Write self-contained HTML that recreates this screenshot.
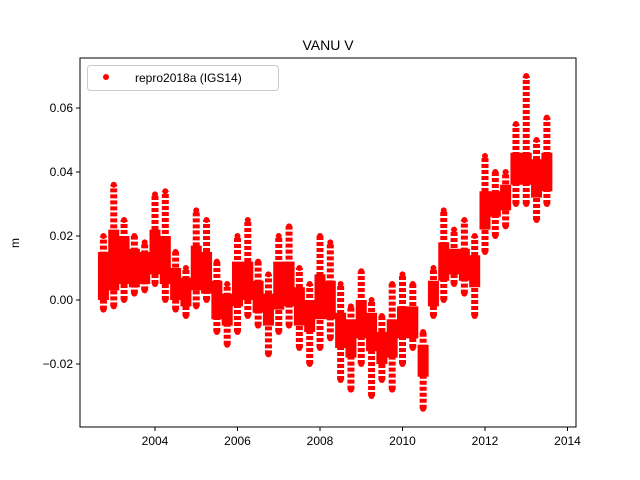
<!DOCTYPE html>
<html><head><meta charset="utf-8"><style>
body{margin:0;background:#fff;}
svg{display:block;font-family:"Liberation Sans","DejaVu Sans",sans-serif;}
</style></head><body>
<svg width="640" height="480">
<g id="marks"></g>
<g id="axes"></g>
<text x="328" y="50" text-anchor="middle" font-size="14">VANU V</text>
<text x="19" y="243" text-anchor="middle" font-size="12" transform="rotate(-90 19 243)">m</text>
<g>
<rect x="87.5" y="65.5" width="191" height="25" rx="3" fill="#fff" stroke="#ccc"/>
<circle cx="106" cy="77" r="3" fill="red"/>
<text x="135" y="82" font-size="12">repro2018a (IGS14)</text>
</g>
</svg>
<script>
const years=[2002.75,2003,2003.25,2003.5,2003.75,2004,2004.25,2004.5,2004.75,2005,2005.25,2005.5,2005.75,2006,2006.25,2006.5,2006.75,2007,2007.25,2007.5,2007.75,2008,2008.25,2008.5,2008.75,2009,2009.25,2009.5,2009.75,2010,2010.25,2010.5,2010.75,2011,2011.25,2011.5,2011.75,2012,2012.25,2012.5,2012.75,2013,2013.25,2013.5];
const coreLows=[0.0,0.003,0.005,0.004,0.005,0.008,0.005,0.0,-0.002,0.003,0.002,-0.006,-0.008,-0.002,0.0,-0.004,-0.008,-0.003,-0.002,-0.008,-0.01,-0.006,-0.006,-0.015,-0.018,-0.012,-0.016,-0.02,-0.018,-0.012,-0.012,-0.024,-0.002,0.006,0.008,0.006,0.004,0.022,0.026,0.028,0.036,0.036,0.032,0.034];
const coreHighs=[0.015,0.022,0.02,0.016,0.015,0.022,0.02,0.01,0.007,0.017,0.015,0.006,0.002,0.012,0.012,0.006,0.002,0.012,0.012,0.004,0.0,0.008,0.006,-0.004,-0.006,0.0,-0.004,-0.01,-0.006,-0.002,-0.002,-0.014,0.006,0.018,0.016,0.016,0.014,0.034,0.034,0.036,0.046,0.046,0.044,0.046];
const lows=[-0.003,-0.002,0.0,0.002,0.003,0.005,0.0,-0.003,-0.005,-0.002,0.0,-0.01,-0.014,-0.01,-0.005,-0.008,-0.017,-0.01,-0.008,-0.015,-0.02,-0.015,-0.012,-0.025,-0.028,-0.02,-0.03,-0.025,-0.028,-0.02,-0.015,-0.034,-0.005,0.0,0.005,0.002,-0.005,0.015,0.02,0.023,0.03,0.03,0.025,0.03];
const highs=[0.02,0.036,0.025,0.02,0.018,0.033,0.034,0.015,0.01,0.028,0.025,0.012,0.005,0.02,0.025,0.012,0.008,0.02,0.023,0.01,0.005,0.02,0.018,0.005,-0.002,0.009,0.0,-0.005,0.005,0.008,0.005,-0.01,0.01,0.028,0.022,0.025,0.02,0.045,0.04,0.04,0.055,0.07,0.05,0.057];
const xTicks=[2004,2006,2008,2010,2012,2014];
const yTicks=[-0.02,0.0,0.02,0.04,0.06];
const yTickLabels=["\u22120.02","0.00","0.02","0.04","0.06"];
const NS="http://www.w3.org/2000/svg";
const L=80,R=576,T=58,B=427;
const xs=t=>155+(t-2004)*41.25;
const ys=v=>300-v*3200;
const marks=document.getElementById('marks');
years.forEach((t,i)=>{
  const sp=document.createElementNS(NS,'line');
  
  
  sp.setAttribute('x1',xs(t));sp.setAttribute('x2',xs(t));
  sp.setAttribute('y1',ys(lows[i]));sp.setAttribute('y2',ys(highs[i]));
  sp.setAttribute('stroke','red');sp.setAttribute('stroke-width','7');sp.setAttribute('stroke-dasharray','4 2');
  marks.appendChild(sp);
  const ln=document.createElementNS(NS,'line');
  
  
  ln.setAttribute('x1',xs(t));ln.setAttribute('x2',xs(t));
  ln.setAttribute('y1',ys(coreLows[i]));ln.setAttribute('y2',ys(coreHighs[i]));
  ln.setAttribute('stroke','red');ln.setAttribute('stroke-width','11');
  marks.appendChild(ln);
  [lows[i],highs[i]].forEach(v=>{
    const c=document.createElementNS(NS,'circle');
    
    
    c.setAttribute('cx',xs(t));c.setAttribute('cy',ys(v));c.setAttribute('r','3');c.setAttribute('fill','red');
    marks.appendChild(c);
  });
});
const ax=document.getElementById('axes');
const fr=document.createElementNS(NS,'rect');


fr.setAttribute('x',L);fr.setAttribute('y',T);fr.setAttribute('width',R-L);fr.setAttribute('height',B-T);
fr.setAttribute('fill','none');fr.setAttribute('stroke','#000');
ax.appendChild(fr);
xTicks.forEach(t=>{
  const l=document.createElementNS(NS,'line');
  
  
  l.setAttribute('x1',xs(t));l.setAttribute('x2',xs(t));l.setAttribute('y1',B);l.setAttribute('y2',B+4);l.setAttribute('stroke','#000');
  ax.appendChild(l);
  const tx=document.createElementNS(NS,'text');
  
  
  tx.setAttribute('x',xs(t));tx.setAttribute('y',B+18);tx.setAttribute('text-anchor','middle');tx.setAttribute('font-size','12');
  tx.textContent=t;ax.appendChild(tx);
});
yTicks.forEach((v,i)=>{
  const l=document.createElementNS(NS,'line');
  
  
  l.setAttribute('x1',L-4);l.setAttribute('x2',L);l.setAttribute('y1',ys(v));l.setAttribute('y2',ys(v));l.setAttribute('stroke','#000');
  ax.appendChild(l);
  const tx=document.createElementNS(NS,'text');
  
  
  tx.setAttribute('x',L-7);tx.setAttribute('y',ys(v)+4);tx.setAttribute('text-anchor','end');tx.setAttribute('font-size','12');
  tx.textContent=yTickLabels[i];ax.appendChild(tx);
});
</script>
</body></html>
